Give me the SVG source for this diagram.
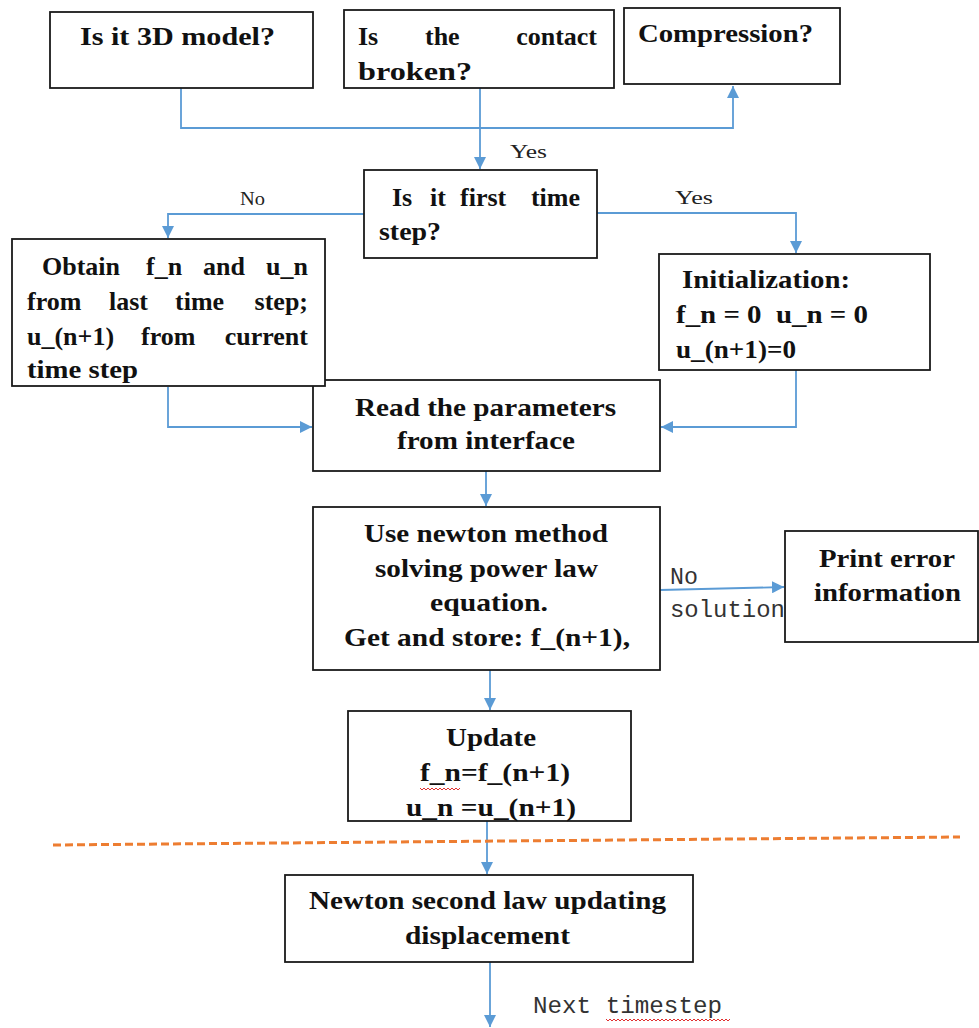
<svg xmlns="http://www.w3.org/2000/svg" width="979" height="1028" viewBox="0 0 979 1028">
<style>
.box{fill:#fff;stroke:#1a1a1a;stroke-width:1.8}
.t{font-family:"Liberation Serif","Times New Roman",serif;font-weight:bold;font-size:26px;fill:#111}
.e{text-anchor:end}
.lbl{font-family:"Liberation Serif","Times New Roman",serif;font-size:19px;fill:#222}
.mono{font-family:"Liberation Mono","Courier New",monospace;font-size:23px;fill:#333}
.con{fill:none;stroke:#5B9BD5;stroke-width:1.8}
.sq{fill:none;stroke:#e03030;stroke-width:1}
</style>
<defs>
<marker id="arr" markerUnits="userSpaceOnUse" markerWidth="12" markerHeight="12" refX="12" refY="6" orient="auto">
<path d="M0,0 L12,6 L0,12 z" fill="#5B9BD5"/>
</marker>
</defs>

<g id="connectors">
<path class="con" d="M181 88 V128 H733 V86" marker-end="url(#arr)"/>
<path class="con" d="M480 88 V169" marker-end="url(#arr)"/>
<path class="con" d="M364 214 H168 V238" marker-end="url(#arr)"/>
<path class="con" d="M597 213 H796 V253" marker-end="url(#arr)"/>
<path class="con" d="M168 387 V427 H312" marker-end="url(#arr)"/>
<path class="con" d="M796 370 V427 H661" marker-end="url(#arr)"/>
<path class="con" d="M486 471 V506" marker-end="url(#arr)"/>
<path class="con" d="M660 590 L784 587" marker-end="url(#arr)"/>
<path class="con" d="M490 670 V710" marker-end="url(#arr)"/>
<path class="con" d="M487 821 V874" marker-end="url(#arr)"/>
<path class="con" d="M490 962 V1027" marker-end="url(#arr)"/>
<text class="lbl" x="510" y="158" textLength="37" lengthAdjust="spacingAndGlyphs">Yes</text>
<text class="lbl" x="240" y="205" textLength="25" lengthAdjust="spacingAndGlyphs">No</text>
<text class="lbl" x="675" y="204" textLength="38" lengthAdjust="spacingAndGlyphs">Yes</text>
<text class="mono" x="670" y="584" textLength="28" lengthAdjust="spacingAndGlyphs">No</text>
<text class="mono" x="670" y="617" textLength="115" lengthAdjust="spacingAndGlyphs">solution</text>
<text class="mono" x="533" y="1013" textLength="189" lengthAdjust="spacingAndGlyphs">Next timestep</text>
</g>

<g id="divider">
<path d="M53 845 L960 837" fill="none" stroke="#ED7D31" stroke-width="3" stroke-dasharray="8 4"/>
</g>

<g id="n-3d">
<rect class="box" x="50" y="12" width="263" height="76"/>
<text class="t" x="80" y="45" textLength="195" lengthAdjust="spacingAndGlyphs">Is it 3D model?</text>
</g>

<g id="n-broken">
<rect class="box" x="344" y="10" width="270" height="78"/>
<text class="t" y="45"><tspan x="358">Is</tspan><tspan x="425">the</tspan></text>
<text class="t e" x="597" y="45">contact</text>
<text class="t" x="358" y="80" textLength="114" lengthAdjust="spacingAndGlyphs">broken?</text>
</g>

<g id="n-compression">
<rect class="box" x="624" y="8" width="216" height="76"/>
<text class="t" x="638" y="42" textLength="175" lengthAdjust="spacingAndGlyphs">Compression?</text>
</g>

<g id="n-first">
<rect class="box" x="364" y="170" width="233" height="88"/>
<text class="t" y="206"><tspan x="392">Is</tspan><tspan x="430">it</tspan><tspan x="460">first</tspan></text>
<text class="t e" x="580" y="206">time</text>
<text class="t" x="379" y="240" textLength="62" lengthAdjust="spacingAndGlyphs">step?</text>
</g>

<g id="n-read">
<rect class="box" x="313" y="380" width="347" height="91"/>
<text class="t" x="355" y="416" textLength="261" lengthAdjust="spacingAndGlyphs">Read the parameters</text>
<text class="t" x="397" y="449" textLength="178" lengthAdjust="spacingAndGlyphs">from interface</text>
</g>

<g id="n-obtain">
<rect class="box" x="12" y="239" width="313" height="147"/>
<text class="t" y="275"><tspan x="42">Obtain</tspan><tspan x="146">f_n</tspan><tspan x="203">and</tspan></text>
<text class="t e" x="308" y="275">u_n</text>
<text class="t" y="310"><tspan x="27">from</tspan><tspan x="109">last</tspan><tspan x="175">time</tspan></text>
<text class="t e" x="308" y="310">step;</text>
<text class="t" y="345"><tspan x="27">u_(n+1)</tspan><tspan x="141">from</tspan></text>
<text class="t e" x="308" y="345">current</text>
<text class="t" x="27" y="378" textLength="111" lengthAdjust="spacingAndGlyphs">time step</text>
</g>

<g id="n-init">
<rect class="box" x="659" y="254" width="271" height="116"/>
<text class="t" x="682" y="288" textLength="168" lengthAdjust="spacingAndGlyphs">Initialization:</text>
<text class="t" x="676" y="323" textLength="192" lengthAdjust="spacingAndGlyphs" xml:space="preserve">f_n = 0  u_n = 0</text>
<text class="t" x="676" y="358" textLength="120" lengthAdjust="spacingAndGlyphs">u_(n+1)=0</text>
</g>

<g id="n-newton-method">
<rect class="box" x="313" y="507" width="347" height="163"/>
<text class="t" x="364" y="542" textLength="244" lengthAdjust="spacingAndGlyphs">Use newton method</text>
<text class="t" x="375" y="577" textLength="223" lengthAdjust="spacingAndGlyphs">solving power law</text>
<text class="t" x="430" y="611" textLength="118" lengthAdjust="spacingAndGlyphs">equation.</text>
<text class="t" x="344" y="646" textLength="286" lengthAdjust="spacingAndGlyphs">Get and store: f_(n+1),</text>
</g>

<g id="n-error">
<rect class="box" x="785" y="531" width="193" height="111"/>
<text class="t" x="819" y="567" textLength="136" lengthAdjust="spacingAndGlyphs">Print error</text>
<text class="t" x="814" y="601" textLength="147" lengthAdjust="spacingAndGlyphs">information</text>
</g>

<g id="n-update">
<rect class="box" x="348" y="711" width="283" height="110"/>
<text class="t" x="446" y="746" textLength="90" lengthAdjust="spacingAndGlyphs">Update</text>
<text class="t" x="420" y="781" textLength="150" lengthAdjust="spacingAndGlyphs">f_n=f_(n+1)</text>
<text class="t" x="406" y="816" textLength="170" lengthAdjust="spacingAndGlyphs">u_n =u_(n+1)</text>
<path class="sq" d="M420 788 l2 2 l2 -2 l2 2 l2 -2 l2 2 l2 -2 l2 2 l2 -2 l2 2 l2 -2 l2 2 l2 -2 l2 2 l2 -2 l2 2 l2 -2 l2 2 l2 -2 l2 2 l2 -2"/>
</g>

<g id="n-newton-second">
<rect class="box" x="285" y="875" width="408" height="87"/>
<text class="t" x="309" y="909" textLength="357" lengthAdjust="spacingAndGlyphs">Newton second law updating</text>
<text class="t" x="405" y="944" textLength="165" lengthAdjust="spacingAndGlyphs">displacement</text>
</g>

<g id="spellmark">
<path class="sq" d="M606 1019 l2 2 l2 -2 l2 2 l2 -2 l2 2 l2 -2 l2 2 l2 -2 l2 2 l2 -2 l2 2 l2 -2 l2 2 l2 -2 l2 2 l2 -2 l2 2 l2 -2 l2 2 l2 -2 l2 2 l2 -2 l2 2 l2 -2 l2 2 l2 -2 l2 2 l2 -2 l2 2 l2 -2 l2 2 l2 -2 l2 2 l2 -2 l2 2 l2 -2 l2 2 l2 -2 l2 2 l2 -2 l2 2 l2 -2 l2 2 l2 -2 l2 2 l2 -2 l2 2 l2 -2 l2 2 l2 -2 l2 2 l2 -2 l2 2 l2 -2 l2 2 l2 -2 l2 2 l2 -2 l2 2 l2 -2 l2 2 l2 -2"/>
</g>
</svg>
